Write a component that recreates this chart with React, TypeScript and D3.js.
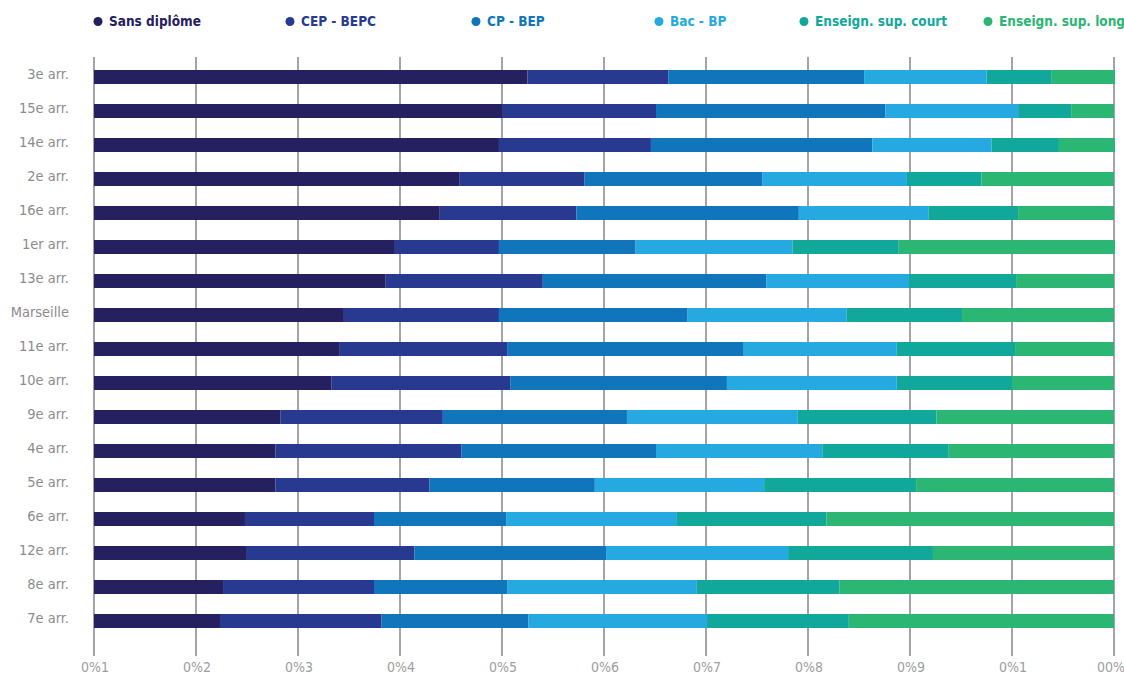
import React from "react";
import * as d3 from "d3";

// Niveau de diplôme de la population non scolarisée, par arrondissement (parts en %)
const categories = [
  "3e arr.", "15e arr.", "14e arr.", "2e arr.", "16e arr.", "1er arr.", "13e arr.",
  "Marseille", "11e arr.", "10e arr.", "9e arr.", "4e arr.", "5e arr.", "6e arr.",
  "12e arr.", "8e arr.", "7e arr.",
];

const seriesNames = [
  "Sans diplôme", "CEP - BEPC", "CP - BEP", "Bac - BP",
  "Enseign. sup. court", "Enseign. sup. long",
];

const sansDiplome = [42.5, 40.0, 39.7, 35.8, 33.9, 29.5, 28.6, 24.5, 24.1, 23.3, 18.3, 17.8, 17.8, 14.8, 14.9, 12.65, 12.35];
const cepBepc     = [13.8, 15.1, 14.9, 12.3, 13.4, 10.2, 15.4, 15.2, 16.4, 17.5, 15.9, 18.2, 15.1, 12.65, 16.5, 14.8, 15.85];
const cpBep       = [19.2, 22.5, 21.7, 17.4, 21.8, 13.4, 21.9, 18.5, 23.2, 21.25, 18.05, 19.1, 16.2, 12.95, 18.8, 13.05, 14.4];
const bacBp       = [12.0, 13.0, 11.7, 14.2, 12.7, 15.4, 14.0, 15.6, 15.0, 16.65, 16.75, 16.3, 16.6, 16.75, 17.85, 18.6, 17.5];
const supCourt    = [6.4, 5.2, 6.6, 7.3, 8.8, 10.4, 10.5, 11.3, 11.6, 11.3, 13.6, 12.4, 14.9, 14.65, 14.2, 14.0, 13.9];
const supLong     = [6.2, 4.2, 5.5, 13.0, 9.4, 21.2, 9.6, 14.9, 9.7, 10.0, 17.4, 16.2, 19.4, 28.2, 17.75, 26.9, 26.0];

const seriesValues = [sansDiplome, cepBepc, cpBep, bacBp, supCourt, supLong];

const colors = ["#252060", "#283a8f", "#1075bb", "#25a9e0", "#11a89b", "#2bb673"];

const tickValues = [0, 10, 20, 30, 40, 50, 60, 70, 80, 90, 100];
const tickLabels = ["0%1", "0%2", "0%3", "0%4", "0%5", "0%6", "0%7", "0%8", "0%9", "0%1", "00%1"];

const W = 1124;
const H = 673;
const FONT = "'Liberation Sans Narrow', 'DejaVu Sans Condensed', 'Roboto Condensed', sans-serif";

const legendX = [98, 290, 476, 659, 804, 988];

export default function App() {
  const x = d3.scaleLinear().domain([0, 100]).range([94, 1114]);
  const y = d3
    .scaleBand<string>()
    .domain(categories)
    .range([60, 60 + categories.length * 34])
    .paddingInner(20 / 34)
    .paddingOuter(10 / 34);

  const rows = categories.map((c, i) => {
    const obj: Record<string, number | string> = { cat: c };
    seriesNames.forEach((s, k) => (obj[s] = seriesValues[k][i]));
    return obj;
  });
  const stacked = d3.stack<Record<string, number | string>>().keys(seriesNames)(rows as any);

  return (
    <svg
      width={W}
      height={H}
      style={{ position: "absolute", left: 0, top: 0, overflow: "hidden", fontFamily: FONT }}
    >
      <rect width={W} height={H} fill="#ffffff" />
      {/* grille verticale */}
      {tickValues.map((t) => (
        <line key={t} x1={x(t)} x2={x(t)} y1={57} y2={656} stroke="#a3a3a8" strokeWidth={2} />
      ))}
      {/* barres empilées */}
      {stacked.map((layer, k) => (
        <g key={layer.key} fill={colors[k]}>
          {layer.map((d, i) => (
            <rect
              key={i}
              x={x(d[0])}
              y={y(categories[i])}
              width={Math.max(0, x(d[1]) - x(d[0]))}
              height={y.bandwidth()}
            />
          ))}
        </g>
      ))}
      {/* libellés des catégories */}
      {categories.map((c) => (
        <text
          key={c}
          x={69}
          y={(y(c) as number) + y.bandwidth() / 2 + 1.5}
          textAnchor="end"
          fontSize={14.5}
          fill="#8c8c8c"
        >
          {c}
        </text>
      ))}
      {/* graduations */}
      {tickValues.map((t, i) => (
        <text key={t} x={x(t) + 1} y={671.5} textAnchor="middle" fontSize={14} fill="#9d9d9d">
          {tickLabels[i]}
        </text>
      ))}
      {/* légende */}
      {seriesNames.map((s, k) => (
        <g key={s} transform={`translate(${legendX[k]},0)`}>
          <circle cx={0} cy={21.5} r={4.5} fill={colors[k]} />
          <text x={11} y={26} fontSize={13.5} fontWeight="bold" fill={colors[k]}>
            {s}
          </text>
        </g>
      ))}
    </svg>
  );
}
